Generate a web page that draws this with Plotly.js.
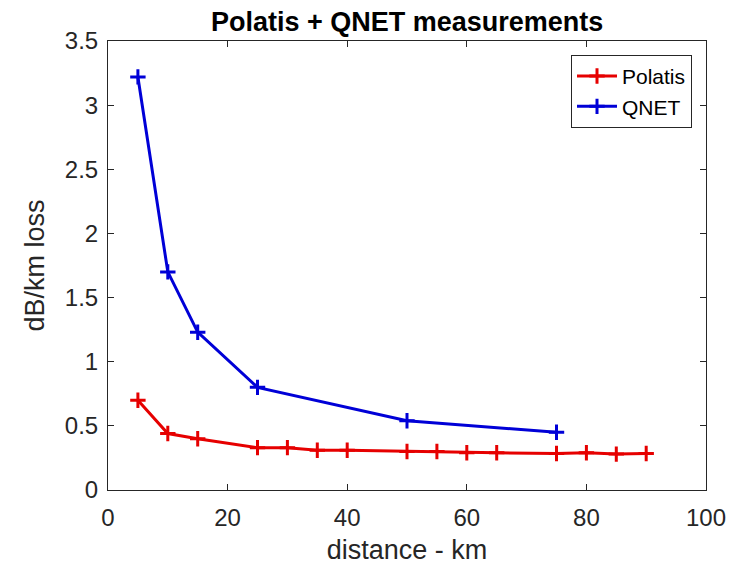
<!DOCTYPE html>
<html>
<head>
<meta charset="utf-8">
<script src="https://cdn.plot.ly/plotly-3.0.1.min.js"></script>
<style>html,body{margin:0;padding:0;background:#fff;}#chart{width:743px;height:565px;}</style>
</head>
<body>
<div id="chart"></div>
<script>
const polatisX = [5, 10, 15, 25, 30, 35, 40, 50, 55, 60, 65, 75, 80, 85, 90];
const polatisY = [0.70, 0.44, 0.40, 0.33, 0.33, 0.31, 0.31, 0.30, 0.30, 0.29, 0.29, 0.285, 0.29, 0.28, 0.285];
const qnetX = [5, 10, 15, 25, 50, 75];
const qnetY = [3.22, 1.70, 1.23, 0.80, 0.54, 0.45];
const xTicks = [0, 20, 40, 60, 80, 100];
const yTicks = [0, 0.5, 1, 1.5, 2, 2.5, 3, 3.5];

const FONT = 'Liberation Sans, Arial, Helvetica, sans-serif';
const AX = '#262626';

const traces = [
  {x: polatisX, y: polatisY, name: 'Polatis', type: 'scatter', mode: 'lines+markers',
   line: {color: 'rgb(230,0,0)', width: 3},
   marker: {symbol: 'cross-thin', size: 11, line: {color: 'rgb(230,0,0)', width: 3}}},
  {x: qnetX, y: qnetY, name: 'QNET', type: 'scatter', mode: 'lines+markers',
   line: {color: 'rgb(0,0,215)', width: 3},
   marker: {symbol: 'cross-thin', size: 11, line: {color: 'rgb(0,0,215)', width: 3}}}
];

const axisCommon = {
  showgrid: false, zeroline: false, showline: true, mirror: 'ticks',
  linecolor: AX, linewidth: 1, ticks: 'inside', ticklen: 6, tickcolor: AX,
  tickfont: {family: FONT, size: 24, color: AX}
};

const layout = {
  width: 743, height: 565,
  margin: {l: 108, r: 37, t: 41, b: 75},
  paper_bgcolor: '#fff', plot_bgcolor: '#fff',
  title: {text: '<b>Polatis + QNET measurements</b>', font: {family: FONT, size: 27, color: '#000'},
          x: 0.548, xanchor: 'center', y: 0.962, yanchor: 'middle'},
  xaxis: Object.assign({}, axisCommon, {range: [0, 100], tickvals: xTicks, ticktext: xTicks.map(String),
          ticklabelstandoff: 6,
          title: {text: 'distance - km', font: {family: FONT, size: 27, color: AX}, standoff: 10}}),
  yaxis: Object.assign({}, axisCommon, {range: [0, 3.5], tickvals: yTicks, ticktext: yTicks.map(String),
          ticklabelstandoff: 4,
          title: {text: 'dB/km loss', font: {family: FONT, size: 27, color: AX}, standoff: 12}}),
  showlegend: true,
  legend: {x: 0.9766, xanchor: 'right', y: 0.969, yanchor: 'top', bgcolor: '#fff',
           bordercolor: AX, borderwidth: 1, font: {family: FONT, size: 21, color: '#000'},
           tracegroupgap: 0, itemwidth: 40}
};

Plotly.newPlot('chart', traces, layout, {displayModeBar: false, staticPlot: true});
</script>
</body>
</html>
